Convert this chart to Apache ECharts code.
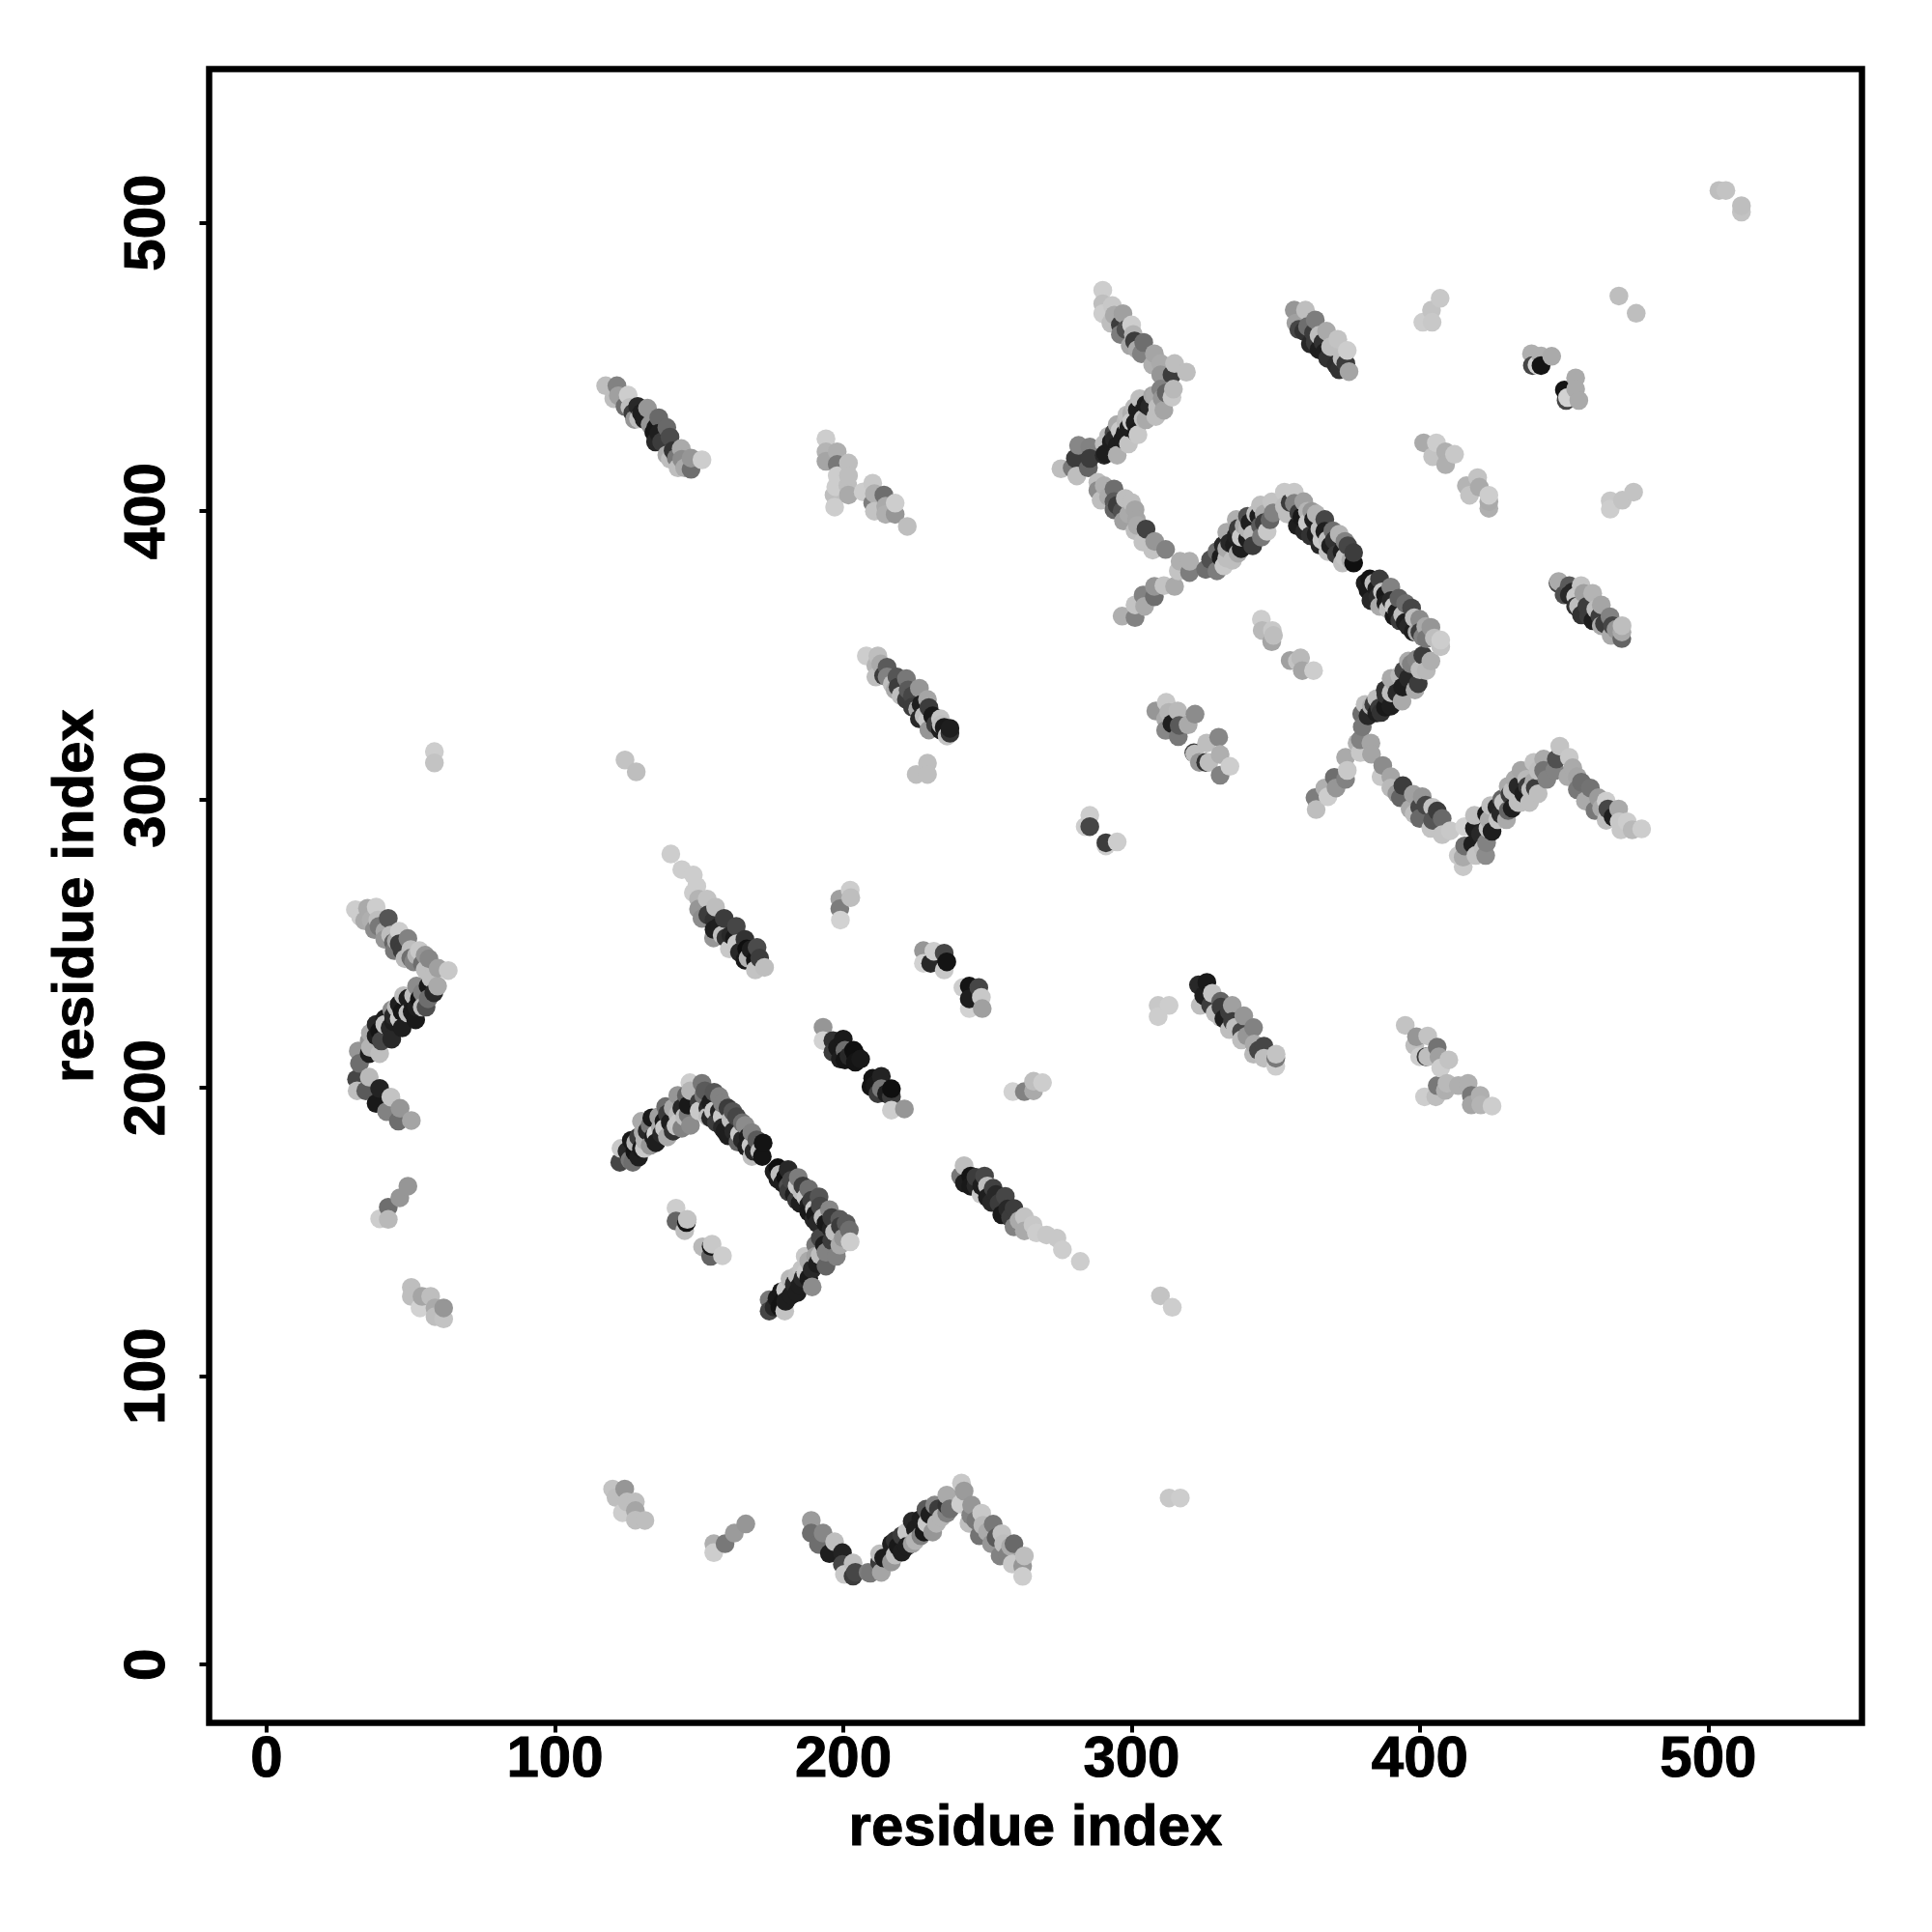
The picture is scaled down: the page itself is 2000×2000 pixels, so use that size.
<!DOCTYPE html>
<html><head><meta charset="utf-8">
<script src="https://cdn.jsdelivr.net/npm/echarts@6/dist/echarts.min.js"></script>
<style>html,body{margin:0;padding:0;background:#fff}#c{width:2000px;height:2000px}</style>
</head><body><div id="c"></div>
<script>
// every point: [residue index x, residue index y, grey level]
const tickValues = [0,100,200,300,400,500];
const axisTitle = "residue index";
const leftChevron = [[30.8,261.8,205],[32.6,259.3,205],[35,262.3,170],[38,262.7,205],[36.2,258.2,175],[37.4,254.9,140],[38.6,258.2,190],[42.2,258.8,85],[41,254.3,170],[41,251.5,150],[46,254.3,205],[44,250.4,100],[49,251.8,130],[44.3,247.6,120],[48,244.8,185],[47,247.6,60],[53,247.6,200],[51,243.7,130],[56.3,244.8,135],[54,243,110],[59.5,241.5,160],[63,240.7,200],
[59.3,235.3,170],[56,235.3,25],[52,235.3,140],[56,230.9,110],[55.3,228,80],[53,230.9,20],[47.5,232,190],[50.5,229.7,30],[50.5,226.4,25],[47,226.4,20],[51.7,223.6,25],[43.4,227,140],[44,223,30],[47,220.8,30],[42.8,220.8,40],[39.2,219.7,20],[39.8,216.3,70],[43.4,216.9,40],[35.6,216.3,150],[39.2,211.9,190],[35.6,211.9,30],[31.8,212.8,150],[32.2,208.5,110],
[31.2,203,70],[31.4,199,190],[35.6,203.7,185],[34.4,199,90],[39.2,199.8,35],[38,194.6,25],[43.1,196.8,195],[41.6,191.8,130],[46.3,192.9,150],[45.7,188.5,110],[50.2,188.7,165]];
const leftChevronFill = [[58,233,40],[57,238,190],[54,233,130],[54,228,190],[51,232,190],[52,228,30],[49,231,30],[49,226,190],[46,229,30],[46,224,200],[45,228,185],[44,225,40],[41,224,30],[41,222,195],[38,222,40],[38,218,30],[36,219,170],[36,214,180],[34,258,170],[39,256,120],[43,253,190],[45,251,170],[46,250,60],[50,248,190],[50,245,110],[52,246,180],[55,246,150],[55,241,190]];
const leftSmall = [[49,165.9,150],[46.2,161.9,150],[42.2,158.6,110],[39.2,154.6,205],[42.2,154.4,185],
[50.2,130.8,190],[50.2,127.7,190],[53.2,123.7,210],[53.9,127.7,165],[56.9,127.7,190],[58.4,123.7,170],[58.4,120.7,190],[61.4,119.9,195],[61.4,123.7,150],[58.2,316.6,205],[58.2,312.7,195]];
const bottomGroup = [[120,60.9,195],[121.2,57.9,190],[124.2,60.9,150],[123.4,52.7,205],[125,56.4,190],[127.9,56.4,190],[127.9,53.4,165],[127.9,50.1,190],[131.2,50,190],
[155.1,41.9,175],[155.1,38.8,205],[159,41.9,120],[162.2,45.6,155],[166.2,48.8,150],
[188.9,50,155],[188.9,45.6,110],[193,45.6,135],[191.4,41.7,110],[197,42.6,190],[195.2,38.5,30],[199.7,38.8,35],[199.7,34.7,70],[200.4,31.3,200],[203.4,35.2,190],[203.4,30.7,60],[209.4,31.7,120],
[204.2,32,70],[208.6,32,125],[213.2,32,165],[212.6,35.6,60],[212.6,38.4,190],[216.7,35.6,150],[216.7,41.9,30],[220.3,39,30],[220.3,44.7,60],[223.9,41.9,160],[223.9,49.7,40],[226.9,44.7,130],[226.9,50.4,30],[228.7,53.9,90],[232.3,49,180],[231.7,55.3,135],[235.9,52.5,130],[235.9,55.3,50],[235.9,58.8,170],[241,63,200],[241.9,60.2,155],[240.7,55.7,205],[243.6,49,190],[244.5,55.3,150],[244.2,51.8,130],[247.2,44.7,115],[248,52.5,200],[248.4,48.3,185],[252,48.7,120],[251.4,41.9,150],[255,45.4,195],[254.4,37.7,130],[255.6,41.9,190],[259.2,41.9,105],[258.6,34.9,200],[262.8,37.7,190],[262.2,34.2,150],[262.2,30.6,205],
[313,57.8,200],[316.9,57.8,205]];
const bottomFill = [[214,37,30],[218,38,190],[218,43,50],[219,41,25],[222,46,200],[222,41,30],[225,47,30],[225,43,180],[228,46,25],[229,49,200],[230,52,30],[231,46,150],[233,54,60],[234,51,180],[237,54,110],[246,50,120],[250,46,170],[253,44,90],[257,38,130],[258,41,170]];
const bigChevron = [[122.9,179,200],[122.5,174.2,70],[127,174.2,110],[126.5,181.8,25],[127.7,177.8,20],[130,179,25],[130,188.4,170],[130.6,184.5,170],[131.2,181.8,180],[133.6,189.6,25],[134.2,182.9,30],[136.6,186.2,170],[138.4,193.5,110],[137.8,188.4,25],[142,186.8,195],[142.6,197.4,150],[142.6,190.7,185],[145.6,197.4,100],[146.2,190.7,120],[146.2,194,25],[146.8,201.8,205],[151,201.6,120],[151.6,197.4,120],[153,193,40],[155.2,198.5,85],[154,189.6,40],[158.1,194.6,130],[157,191.8,35],[158.1,186.2,40],[161.7,191.8,85],[160.5,187.3,30],[160,183.4,30],[165,187.9,110],[163.5,181.2,100],[168.3,184.5,130],[166.5,179.5,30],[168.3,176.2,190],[171.9,176.2,20],[172.2,180.9,20],
[177.3,172.3,15],[177.3,168.4,30],[180.9,171.7,40],[180.9,166.1,80],[184.4,168.9,125],[183.8,161.1,60],[185.6,163.9,190],[188,165,110],[188,159.4,30],[191.6,162.2,85],[189.8,154.4,40],[190.4,156.1,25],[195.2,157.8,135],[195.8,151.1,35],[198.8,154.4,90],[202.1,150.7,110],[202.4,146.6,205],[198.8,145.5,170],
[193.4,145.5,30],[190.4,145.5,120],[186.8,141.6,200],[197.6,141.6,130],[194,138.2,100],[190.4,141.6,160],[189.2,137.1,40],[189.2,131,140],[185.6,137.1,195],[185,131.5,30],[181.5,133.8,185],[182,128.2,30],[178.5,129.3,25],[174.3,126.5,120],[174.3,122.6,70],[179.1,125.9,20],[179.7,122.6,195]];
const bigChevronFill = [[125,178,40],[126,175,120],[128,181,180],[129,176,30],[129,183,60],[131,179,200],[132,185,40],[133,180,150],[133,187,120],[135,184,210],[135,181,30],[136,190,160],[137,184,40],[138,186,200],[139,191,60],[139,183,170],[140,188,30],[141,193,170],[141,185,50],[143,188,200],[144,193,40],[144,186,130],[145,190,190],[147,199,180],[147,187,140],
[150,195,60],[150,192,200],[152,199,90],[153,190,190],[154,195,30],[155,192,200],[156,188,60],[157,197,130],[158,190,200],[159,185,30],[160,193,60],[161,189,190],[162,185,40],[163,190,70],[164,184,200],[165,182,40],[166,187,140],[167,183,30],[168,180,200],[169,178,40],[170,182,90],[171,178,190],
[176,171,30],[178,170,190],[179,167,30],[180,169,15],[181,164,60],[182,168,70],[183,163,30],[184,166,200],[185,160,30],[186,166,60],[187,162,200],[188,157,25],[189,161,60],[190,158,200],[191,153,40],[192,159,70],[193,155,190],[194,153,25],[196,155,60],[197,150,190],[199,152,60],[200,148,150],[201,153,90],
[196,147,60],[194,143,130],[192,142,190],[192,148,70],[191,139,30],[188,140,170],[188,134,25],[187,136,200],[186,134,40],[184,135,190],[184,129,30],[183,132,40],[180,130,200],[180,126,30],[177,127,25],[176,124,40],[178,124,20]];
const innerSmall = [[142,158.3,205],[142,153.8,100],[145,150.5,190],[145.6,153.3,20],[145.9,154.4,195],[151.2,144.9,185],[154.2,145,25],[154.5,145.8,200],[154,141.6,100],[158.1,141.8,205]];
const midUpper = [[140.2,281.1,205],[144,275.7,205],[148,273.8,205],[149.2,269.9,205],[148,267.7,205],[149.8,265.5,180],[151,258.8,140],[152.8,265.5,195],[149.8,262,150],[155.7,262.7,190],[155.2,258.2,50],[155.2,254.9,30],[158.7,258.8,60],[159.3,252,50],[162.9,256,70],[160.5,248.2,200],[162.3,252,25],[165.9,251.5,50],[165.9,244.3,25],[166.5,248.2,15],[170.1,248.7,75],[169.5,244.3,20],[169.5,240.9,195],[172.7,241.8,190],
[202.4,268.6,205],[198.8,265.5,160],[198.8,262.1,125],[199,258.2,210],[202.6,266,190],
[153,260,60],[157,256,30],[158,253,190],[161,253,40],[163,250,200],[164,247,40],[167,245,180],[168,248,30],[171,245,60],[155,252,150]];
const midCentre = [[193,221,150],[193,216.4,210],[196.4,216.4,50],[196.4,212.4,60],[200,216.9,25],[200.6,213,110],[200.6,209.7,20],[203.6,213,15],[204.2,211.7,15],[204.2,208.9,20],[210.2,203.3,20],[209.6,200.4,20],[213.2,204,35],[213.2,199.7,120],[216.7,196.9,60],[216.7,199.7,15],[216.7,192.3,205],[221.2,192.7,150],
[198,214,25],[199,210,30],[202,211,40],[206,210,25],[211,201,25],[212,198,60],[215,198,30],
[227.8,247.6,150],[227.8,243.2,210],[231.4,247.4,205],[230.3,243.2,40],[235,246.7,70],[235,240.9,200],[235.9,243.7,20],[241.5,234.8,205],[243.7,235.3,20],[247,234.8,70],[243.7,227.5,210],[243.7,230.9,30],[248.2,227.5,160],[247.9,231.4,200]];
const lowerStrand = [[241.9,173,190],[240.7,169.4,120],[244.2,169.4,20],[244.2,165.9,25],[249,169.4,70],[247.8,163.1,200],[252,165.2,65],[251.4,160.3,40],[256.2,162.4,70],[255,156,25],[259.2,158.2,60],[259.2,151.8,130],[262.8,155.3,195],[262.8,150.4,170],[265.8,152.5,200],[267,149.7,205],[270.5,149,200],[274.1,147.9,200],[276,143.9,205],[282.2,139.8,205],
[242,167,30],[246,166,40],[246,169,60],[248,166,30],[250,166,190],[250,162,30],[253,163,40],[254,160,60],[257,158,40],[258,155,60],[261,154,170],
[258.8,198.7,210],[262.8,198.7,130],[266,199,170],[266,202.3,190],[269.1,201.8,205],[310,127.9,195],[314.1,123.9,205],[309.2,228.6,200],[309.2,224.7,205],[313,228.6,205]];
const rightLower = [[323.2,235.7,40],[326.1,236.6,25],[323.8,228.6,190],[328,232.8,195],[327.4,228.6,60],[330.9,230,100],[330.9,224.4,190],[333.9,226.5,60],[334.9,228.6,160],[333.9,220.2,190],[338.1,219.5,70],[338.1,216.6,190],[338.9,225,150],[342.3,220.9,130],[342.5,215.2,170],[342.3,211.7,185],[345.9,214.5,70],[345.9,210.3,190],[350,207.5,205],[350,210.3,120],[350.1,211.7,195],
[325,232,30],[329,226,190],[331,228,60],[332,224,30],[335,223,60],[336,221,190],[340,218,150],[344,213,70],
[394.9,221.7,195],[398.8,217.7,150],[398.2,214.7,190],[402.7,218,195],[399.9,210.8,205],[402.1,210.8,60],[402.7,210.8,190],[406,214.1,115],[406.6,210.8,160],[410,209.7,195],[407.2,206.9,205],[406,200.8,120],[409.4,201.6,185],[408.8,199.1,175],[401.6,196.9,205],[405.5,196.9,190],[413.3,200.8,175],[416.7,201.6,175],[417.8,197.4,120],[417.8,194.1,165],[420.9,197.4,175],[421.1,194.1,180],[425,193.7,205]];
const zigzagRight = [[364,296.5,190],[363.6,300.6,125],[368.1,301,205],[367,304,175],[370.9,304,150],[370.3,307.7,110],[374.2,307,130],[374.8,310.1,200],[374.2,314.6,170],[378.2,319.6,180],[379.3,316.3,200],[379.3,320.7,130],[383.2,315.7,165],[383,319.6,165],[380,325.2,120],[379.8,329.7,110],
[387.1,311.8,140],[386.5,307.9,200],[389.9,307.9,165],[389.9,304,185],[394.1,304.8,60],[393.2,300.6,100],[397.7,301.8,160],[396.6,296.7,170],[400.8,301,150],[399.9,297.3,70],[399.9,293.4,105],[404.4,297.3,195],[403.8,290,195],[407.7,293.4,105],[404.4,292.8,85],[407.7,287.8,195],[410.5,289.2,200],[415.5,290.6,210],
[413.3,280.6,200],[415,276.7,200],[415.5,283.9,110],[415,280,170],[418.3,284.5,30],[419.4,280.6,195],[418.9,290,30],[418.9,294.5,190],[422.8,280.6,140],[423.1,285,130],[423.6,290,195],[423.1,295,25],[424.5,297.9,190],[426.7,297.3,35],[428.4,300.1,100],[430.6,296.2,100],[430.6,304.6,170],[431.2,301.8,60],[434,299,190],[435.1,310.1,165],[434,304.6,40],[437.3,304.6,60],[438.4,303.4,190],[439.5,306.2,170],[439.5,312.9,195],[442.9,314,170],[442.9,310.1,115],[447.3,314,80],[446.8,310.1,130],[448.5,318.5,195],[451.8,314.6,200],[451.3,307.9,170],[454.6,307.9,165],[454.6,303.4,120],[459.1,304,115],[457.4,299.5,170],[461.9,300.6,155],[460.7,296.2,120],[464.6,299.5,205],[465.2,296.7,70],[468.9,296.7,170],[464.6,292.8,190],[469.1,292.3,200],[471.9,292.3,205],[469.7,289.5,200],[473.6,289.5,185],[476.9,289.8,205]];
const zigzagFill = [[392,302,150],[398,295,190],[402,298,70],[406,296,60],[421,288,40],[422,283,190],[424,293,170],[425,289,30],[427,293,195],[428,295,40],[429,299,195],[430,293,170],[432,297,30],[432,303,190],[433,307,170],[435,299,190],[436,302,30],[437,307,185],[438,299,190],[440,304,60],[441,310,190],[441,302,190],[444,307,130],[453,311,170],[456,306,110],[463,297,170],[467,294,30]];
const centreSmall = [[308.4,330.7,150],[312,333.7,200],[311.8,327.9,170],[312.9,330.2,180],[316,330.7,185],[311.8,324,135],[314,326.3,30],[316.5,325.7,90],[316.2,321.8,120],[319.6,325.9,170],[322,329.6,140],[321.6,316.2,60],[321.9,315.8,190],[323.5,312.9,150],[326,319.6,190],[330.2,321.6,135],[325.7,312.9,50],[326.8,312.9,190],[330.7,308.4,130],[330.7,315.6,175],[334.1,311.5,205],
[345,362.5,205],[345.3,358.6,185],[348.6,354.7,165],[348.8,358.6,200],[349.2,356.9,190],[355,348.2,160],[358.6,349.1,185],[357.5,348,195],[359.2,344.7,165],[363.1,344.7,205],
[285.5,294.5,205],[283.9,290.6,205],[285.5,290.6,70],[291.1,283.9,205],[291.1,285,60],[295,285.3,205]];
const longArm = [[296.7,363.6,175],[301.2,363.1,130],[301.2,367.5,195],[304.5,367,170],[304,370.9,130],[307.9,370.3,110],[307.9,373.9,150],[311.2,374.2,195],[314.9,373.9,170],
[316.8,382.6,175],[316.2,379.3,195],[320.1,378.7,125],[320.1,382.6,175],[325.7,379.8,110],
[329.6,386,110],[329.6,379.3,125],[327.4,383.2,80],[333,392.7,170],[333,383.7,190],[331.8,388.2,40],[336.3,397.1,175],[336.3,391.5,35],[336.9,385.4,170],[335.7,388.2,30],[340.2,398.2,80],[340.2,390.4,30],[340.2,393.8,180],[344.7,402.1,190],[344.7,394.9,90],[344.1,398.2,30],[348.6,403.2,195],[349.1,399.4,130],[353,406.6,200],[356.4,406.6,200],[353,401.6,190],[356.4,402.7,130],[359.7,403.3,160],[358,399.4,60],[362.5,399.9,150],[357.5,394.9,30],[363.1,397.1,30],[362,391.5,50],[367,397.1,70],[365.3,393.8,190],[365.3,388.2,40],[369.8,393.2,110],[368.1,386,195],[370.3,389.9,50],[374,389.5,130],[373.1,382,190],[377,382,15],[377,385.6,60],
[382.6,376.5,20],[386,376.5,60],[382,372.6,25],[389.9,373.7,130],[385.4,370.3,45],[388.2,368,30],[392.7,369.8,95],[391,363.6,25],[397.1,366.4,70],[394.9,361.4,30],[399.9,362.5,140],[397.7,358.1,30],[403.8,359.7,150],[401,356.4,130],[402.2,355.8,120],[407.2,353,195],[407.2,355.3,205],
[398.8,348.6,135],[403.8,348,175],[402.2,344.7,185],[394.4,344.7,70],[399.4,340.2,60],[391,340.8,170],[398.3,338,170],[393.8,334.1,170],[388.2,336.3,50],[386,331.8,60],[389.9,332.4,30],[383.2,332.4,175],[386.5,330.2,50]];
const longArmFill = [[331,384,30],[332,381,200],[333,387,170],[334,389,40],[335,383,190],[337,394,60],[338,387,30],[338,391,200],[339,395,170],[341,396,30],[342,392,190],[342,388,60],[343,399,190],[345,391,120],[346,399,170],[346,396,60],[347,393,200],[348,397,100],
[355,403,60],[354,399,190],[359,398,25],[360,393,40],[361,400,180],[361,396,200],[364,392,30],[364,399,180],[366,390,200],[367,393,30],[368,390,190],[369,388,30],[371,385,60],[372,392,180],[373,386,30],[374,384,195],[375,388,70],[376,383,170],
[381,375,30],[383,369,40],[384,375,190],[385,373,30],[386,367,170],[387,372,200],[388,371,25],[389,366,190],[390,369,40],[391,367,200],[392,365,30],[393,362,60],[394,364,190],[395,368,110],[396,360,40],[398,363,190],[399,358,170],[400,358,60],[402,360,170],[405,356,190],
[401,350,60],[400,345,190],[397,347,130],[396,342,40],[396,348,170],[394,339,30],[393,343,185],[392,337,40],[390,342,170],[390,337,190],[388,332,25],[388,338,50],[385,335,190],[385,330,30],[384,333,60],[382,329,40],[381,333,190]];
const upperArm = [[290,476.6,205],[290,471.9,190],[290,468.5,205],[293.3,471.3,200],[292.8,465.2,190],[297,468.5,160],[296.1,464.6,60],[296.1,461.3,125],[300,464.6,205],[300.6,461.3,180],[299.5,457.4,165],[304.2,458.5,110],[303.4,454.6,130],[307.9,454.6,165],[307.3,450.7,175],[310.1,451.2,170],[314.9,451.2,190],[314,447.3,60],[319,448.2,190],[310.1,447.3,150],
[314.5,442.3,185],[310.1,442.3,130],[314,439.5,200],[310.6,439,150],[311.2,435,165],[307.3,440.1,165],[302.8,439,190],[306.2,436.2,40],[308.4,432.8,190],[303.9,434.5,30],[305,431.7,170],[300,433.9,175],[301.2,430.6,30],[298.4,433.4,190],[297.8,427.2,30],[301.7,427.2,25],[302.2,426.5,200],[295,430,170],[295,422.8,30],[293.9,427.2,70],[298.9,423.3,195],[295,419.4,175],[290.5,423.3,190],[290.5,419.4,40],[285.5,422.2,130],[285.5,418.3,60],[281.6,422.8,135],[285,415,100],[280.5,418.3,60],[281,412.2,190],[279.4,415,120],[275.5,414.7,190],
[288.3,410,190],[290.5,408.8,175],[288.3,407.2,140],[289.4,403.8,190],[293.9,407.7,110],[293.9,403.3,90],[293.9,400.5,100],[297.8,404.4,190],[296.7,400,80],[297.2,396.6,160],[301.2,400.5,165],[301.7,397.1,165],[301.2,393.2,190],[305,393.8,65],[303.9,389.3,195],[308,389.5,150],[307.3,386.5,195],[311.8,386.7,130]];
const upperArmFill = [[312,441,100],[309,436,190],[308,440,170],[305,437,30],[304,432,190],[302,435,30],[301,436,185],[300,431,200],[299,429,30],[298,431,185],[297,425,30],[296,428,200],[294,425,40],[293,424,30],[292,426,190],[291,420,30],[294,468,170],[298,463,80],[301,459,60],[302,456,170],[292,405,170],[295,402,60],[299,399,170],[300,403,190],[302,395,170]];
const topStrands = [[356.4,469.7,150],[357,465.2,160],[360.3,469.7,190],[359.7,462.4,50],[363.7,466.3,125],[363.7,458.5,60],[363.1,461.8,60],[367.6,462.4,170],[367,455.1,30],[366.4,458.5,50],[371.5,459.6,195],[370.9,450.7,45],[374.8,455.7,205],[374.3,451.2,60],[375.4,448.4,165],
[358,463,70],[361,464,110],[362,458,40],[365,456,30],[365,461,190],[368,453,50],[369,457,190],[372,449,50],[373,453,190],
[407,473.8,200],[404,469.7,195],[401,465.5,205],[404.2,465.5,200],
[401.3,423.7,170],[405.7,423.7,205],[404.4,418.9,195],[408.9,420.6,175],[408.9,416.1,175],[412,419.7,200],[416.1,408.8,180],[420,411.6,195],[420.6,408.3,170],[417.2,405.5,195],[423.9,401,175],[423.9,403.3,170],[423.9,405.5,205],
[503.7,511.2,190],[506.1,511.2,195],[511.5,503.7,195],[511.5,505.9,190],[469,474.6,190],[475,468.6,190],
[438.7,454.6,175],[442,453.8,175],[445.7,453.7,170],[439,450.5,70],[440.6,450.7,210],[442,450.5,20],[454,446.2,170],[450.1,442,20],[454,442.3,170],[450.7,438.4,70],[451.2,439.4,210],[455.1,438.4,170],
[474.1,406.6,195],[470.2,403.8,195],[466,403.6,200],[466,400.7,205],
[447.9,375,70],[448.1,375.6,170],[451.8,374.2,90],[451.8,370.9,40],[455.9,374.2,195],[454,370.3,200],[454,367,50],[456.8,371.5,160],[457.9,367,60],[459.9,371.5,180],[458.5,363.6,60],[462.9,367.5,165],[462.4,363.6,60],[462.9,360.3,170],[465.9,363.4,130],[466.8,360.3,70],[466.3,356.9,170],[470,355.8,100],[470.05,358.1,170],[470.1,360.3,190],
[450,371,80],[453,372,40],[455,367,190],[456,364,50],[460,362,30],[461,366,190],[464,361,60],[468,359,150]];
const upperLeft = [[117.6,443.5,190],[121.5,443.5,130],[120.4,439,190],[125.4,440.2,205],[124.3,436.3,110],[128.7,436.3,40],[127.6,431.8,150],[132.1,435.7,150],[131,431.8,30],[136,432.4,105],[134.3,427.3,25],[138.8,429,105],[134.9,424,40],[139.9,425.7,75],[138.8,419.5,170],[143.8,421.7,170],[142.7,415,190],[142.1,418.4,120],[147.2,414.5,110],[147.2,418.4,150],[151,417.8,205],
[122,440,160],[126,436,190],[127,434,60],[129,432,190],[130,434,30],[133,430,150],[135,429,25],[137,424,60],[136,427,30],[141,421,50],[140,418,190],[144,418,140],[145,415,170],
[194,425.1,205],[194,420.6,180],[194,417.3,165],[197.9,420.6,175],[197.9,416.2,120],[201.8,416.7,190],[197.9,412.3,205],[201.8,412.3,190],[197.4,408.4,205],[196.8,405.6,190],[201.8,405.6,170],[201.6,408.9,190],[197,401.4,205],[206.9,406.7,205],[210.2,409.7,200],[210.8,406.1,175],[210.2,402.8,125],[210.8,400,195],[214.1,405.6,110],[214.7,401.7,170],[214.7,398.9,175],[218,398.9,150],[218,402.8,205],[222.2,394.7,190],
[208,349.8,205],[212,349.8,190],[211.3,346.4,180],[215.2,345.9,90],[211.3,342.5,190],[215.2,342.5,130],[218.6,342.5,85],[218,338,170],[221.9,341.9,120],[222.5,338,90],[221.9,334.7,60],[226.4,338.6,150],[225.8,331.3,170],[229.2,334.7,165],[229.7,331.9,60],[226.4,328,40],[229.2,327.4,200],[233.7,328,195],[229.7,324.1,150],[233.7,324.1,30],[237,323,50],[237,324.7,30],
[213,347,170],[214,343,60],[217,340,190],[219,339,60],[220,336,190],[224,336,70],[224,332,60],[227,333,30],[228,329,190],[231,329,25],[232,326,60],[234,326,190],[235,325,25],[236,322,195],
[229.2,312.6,190],[225.3,308.7,190],[229.2,308.7,190],[124.3,313.7,195],[128.2,309.6,190]];

const points = [].concat(leftChevron,leftChevronFill,leftSmall,bottomGroup,bottomFill,bigChevron,bigChevronFill,innerSmall,midUpper,midCentre,lowerStrand,rightLower,zigzagRight,zigzagFill,centreSmall,longArm,longArmFill,upperArm,upperArmFill,topStrands,upperLeft);
points.sort((a,b)=>a[0]-b[0]);

const font = "'Liberation Sans', Arial, sans-serif";
function axis(gap, rotate, margin){
  return {type:'value',min:-19.93,max:553.3,name:axisTitle,nameLocation:'middle',nameGap:gap,nameMoveOverlap:false,
    nameTextStyle:{color:'#000',fontFamily:font,fontWeight:'bold',fontSize:60,textBorderColor:'#000',textBorderWidth:1},
    axisLine:{show:false,onZero:false},splitLine:{show:false},
    axisTick:{show:true,length:10,inside:false,lineStyle:{color:'#000',width:4},customValues:tickValues},
    axisLabel:{show:true,rotate:rotate,margin:margin,color:'#000',fontFamily:font,fontWeight:'bold',fontSize:60,textBorderColor:'#000',textBorderWidth:1,customValues:tickValues,hideOverlap:false,showMinLabel:true,showMaxLabel:true}};
}
const chart = echarts.init(document.getElementById('c'),null,{renderer:'canvas'});
const xA = axis(80,0,9);
const yA = axis(107,90,33);
yA.min=-20.2; yA.max=553.3;
chart.setOption({animation:false,backgroundColor:'#fff',
  grid:{show:true,left:216.5,top:71.5,width:1711,height:1712,borderColor:'#000',borderWidth:6.5,backgroundColor:'transparent',containLabel:false},
  xAxis:xA,yAxis:yA,
  series:[{type:'scatter',symbol:'circle',symbolSize:19.5,data:points,clip:true,z:1,
    encode:{x:0,y:1},
    itemStyle:{opacity:1,color:p=>{const g=p.value[2];return `rgb(${g},${g},${g})`;}}}]});
</script></body></html>
